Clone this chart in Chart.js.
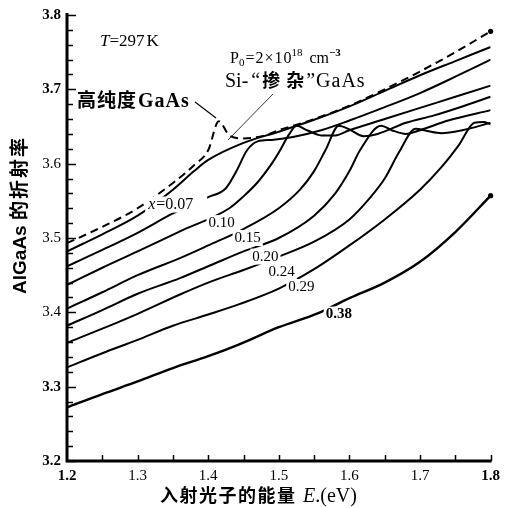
<!DOCTYPE html>
<html>
<head>
<meta charset="utf-8">
<script src="https://cdn.jsdelivr.net/npm/chart.js@4"></script>
<style>
  html, body { margin: 0; padding: 0; background: #fff; }
  #wrap { position: relative; width: 506px; height: 508px; }
</style>
</head>
<body>
<div id="wrap"><canvas id="c"></canvas></div>
<script>
// Refractive index of AlGaAs vs photon energy, T = 297 K
const xTicks = [1.2, 1.3, 1.4, 1.5, 1.6, 1.7, 1.8];
const yTicks = [3.2, 3.3, 3.4, 3.5, 3.6, 3.7, 3.8];

// high purity GaAs (dashed)
const ePure = [1.2, 1.25, 1.3, 1.35, 1.38, 1.40, 1.415, 1.43, 1.45, 1.48, 1.5, 1.55, 1.6, 1.65, 1.7, 1.75, 1.8];
const nPure = [3.493, 3.515, 3.54, 3.574, 3.598, 3.618, 3.657, 3.638, 3.634, 3.638, 3.645, 3.66, 3.678, 3.70, 3.724, 3.75, 3.778];
// Si-doped GaAs, P0 = 2e18
const eSi = [1.2, 1.25, 1.3, 1.35, 1.38, 1.4, 1.45, 1.5, 1.55, 1.6, 1.65, 1.7, 1.75, 1.8];
const nSi = [3.482, 3.505, 3.53, 3.565, 3.59, 3.605, 3.628, 3.643, 3.659, 3.677, 3.698, 3.719, 3.738, 3.757];
// AlxGa1-xAs
const e07 = [1.2, 1.25, 1.3, 1.35, 1.4, 1.425, 1.44, 1.455, 1.47, 1.49, 1.52, 1.56, 1.6, 1.65, 1.7, 1.75, 1.8];
const n07 = [3.462, 3.484, 3.507, 3.533, 3.555, 3.567, 3.59, 3.618, 3.63, 3.632, 3.636, 3.645, 3.658, 3.676, 3.695, 3.717, 3.74];
const e10 = [1.2, 1.25, 1.3, 1.36, 1.43, 1.45, 1.47, 1.49, 1.5, 1.515, 1.525, 1.54, 1.56, 1.58, 1.6, 1.65, 1.7, 1.75, 1.8];
const n10 = [3.437, 3.46, 3.482, 3.509, 3.54, 3.556, 3.575, 3.60, 3.615, 3.64, 3.651, 3.645, 3.638, 3.638, 3.645, 3.66, 3.675, 3.69, 3.705];
const e15 = [1.2, 1.25, 1.3, 1.36, 1.4, 1.45, 1.5, 1.53, 1.55, 1.566, 1.585, 1.6, 1.62, 1.64, 1.68, 1.72, 1.76, 1.8];
const n15 = [3.405, 3.427, 3.45, 3.473, 3.49, 3.512, 3.54, 3.565, 3.59, 3.618, 3.651, 3.646, 3.637, 3.64, 3.655, 3.665, 3.677, 3.69];
const e20 = [1.2, 1.25, 1.3, 1.36, 1.4, 1.45, 1.5, 1.55, 1.58, 1.6, 1.615, 1.645, 1.66, 1.68, 1.7, 1.74, 1.8];
const n20 = [3.382, 3.403, 3.425, 3.446, 3.462, 3.482, 3.50, 3.53, 3.56, 3.59, 3.618, 3.651, 3.645, 3.64, 3.645, 3.658, 3.672];
const e24 = [1.2, 1.25, 1.3, 1.36, 1.4, 1.45, 1.5, 1.55, 1.6, 1.63, 1.65, 1.67, 1.694, 1.71, 1.73, 1.76, 1.8];
const n24 = [3.359, 3.378, 3.398, 3.424, 3.44, 3.457, 3.475, 3.495, 3.525, 3.555, 3.58, 3.615, 3.647, 3.644, 3.641, 3.645, 3.655];
const e29 = [1.2, 1.25, 1.3, 1.35, 1.4, 1.444, 1.5, 1.55, 1.6, 1.65, 1.7, 1.73, 1.755, 1.777, 1.79, 1.8];
const n29 = [3.326, 3.345, 3.363, 3.382, 3.397, 3.411, 3.432, 3.458, 3.49, 3.525, 3.565, 3.595, 3.625, 3.655, 3.656, 3.653];
const e38 = [1.2, 1.25, 1.3, 1.35, 1.4, 1.444, 1.5, 1.556, 1.6, 1.65, 1.7, 1.75, 1.8];
const n38 = [3.272, 3.29, 3.307, 3.325, 3.341, 3.357, 3.38, 3.399, 3.419, 3.44, 3.468, 3.508, 3.557];

const pts = (es, ns) => es.map((e, i) => ({ x: e, y: ns[i] }));
const solid = (label, es, ns, w) => ({
  label, data: pts(es, ns), borderColor: '#000', borderWidth: w || 2,
  pointRadius: 0, fill: false, cubicInterpolationMode: 'monotone'
});

const SERIF = '"Liberation Serif", "DejaVu Serif", serif';
const CJK = '"Noto Sans CJK SC", sans-serif';
const SANS = '"Liberation Sans", Arial, sans-serif';

// draws text pieces one after the other: [text, font, dy, gapAfter, letterGap]
function runs(ctx, x, y, parts) {
  ctx.textAlign = 'left';
  for (const [txt, font, dy, gap, lg] of parts) {
    ctx.font = font;
    if (lg) {
      for (const ch of txt) {
        ctx.fillText(ch, x, y + (dy || 0));
        x += ctx.measureText(ch).width + lg;
      }
      x -= lg;
    } else {
      ctx.fillText(txt, x, y + (dy || 0));
      x += ctx.measureText(txt).width;
    }
    x += gap || 0;
  }
}

// inward ticks, axis titles and curve notes
const decor = {
  id: 'decor',
  afterDatasetsDraw(chart) {
    const { ctx, chartArea: a, scales: { x, y } } = chart;
    ctx.save();
    ctx.strokeStyle = '#000';
    ctx.lineWidth = 1.5;
    for (let v = 3.2; v <= 3.8001; v += 0.02) {
      const py = Math.round(y.getPixelForValue(v)) + 0.5;
      const major = Math.abs(v * 10 - Math.round(v * 10)) < 0.01;
      ctx.beginPath(); ctx.moveTo(a.left, py); ctx.lineTo(a.left + (major ? 9 : 6), py); ctx.stroke();
    }
    for (let v = 1.25; v <= 1.8001; v += 0.05) {
      const px = Math.round(x.getPixelForValue(v)) + 0.5;
      ctx.beginPath(); ctx.moveTo(px, a.bottom); ctx.lineTo(px, a.bottom - 6); ctx.stroke();
    }
    ctx.lineWidth = 3;
    ctx.beginPath();
    ctx.moveTo(a.left, a.top - 2); ctx.lineTo(a.left, a.bottom); ctx.lineTo(a.right + 1, a.bottom);
    ctx.stroke();
    // end blobs
    ctx.fillStyle = '#000';
    ctx.beginPath(); ctx.arc(x.getPixelForValue(1.8), y.getPixelForValue(3.557), 2.6, 0, Math.PI * 2); ctx.fill();
    ctx.beginPath(); ctx.arc(x.getPixelForValue(1.8), y.getPixelForValue(3.778), 2.6, 0, Math.PI * 2); ctx.fill();

    // curve labels with a white gap behind them
    ctx.textBaseline = 'middle';
    ctx.textAlign = 'center';
    const note = (txt, e, n, font) => {
      ctx.font = font || '15px ' + SERIF;
      const px = x.getPixelForValue(e), py = y.getPixelForValue(n);
      const w = ctx.measureText(txt).width;
      ctx.fillStyle = '#fff';
      ctx.fillRect(px - w / 2 - 2, py - 8, w + 4, 16);
      ctx.fillStyle = '#000';
      ctx.fillText(txt, px, py);
    };
    note('0.10', 1.419, 3.520);
    note('0.15', 1.456, 3.500);
    note('0.20', 1.481, 3.475);
    note('0.24', 1.504, 3.454);
    note('0.29', 1.532, 3.434);
    note('0.38', 1.585, 3.397, 'bold 15px ' + SERIF);
    // x = 0.07 with italic x
    {
      const px = x.getPixelForValue(1.315), py = y.getPixelForValue(3.545);
      ctx.fillStyle = '#fff';
      ctx.fillRect(px - 3, py - 8, 62, 16);
      ctx.fillStyle = '#000';
      runs(ctx, px, py, [['x', 'italic 16px ' + SERIF, 0, 1], ['=0.07', '16px ' + SERIF]]);
    }

    ctx.textBaseline = 'alphabetic';
    // T = 297 K
    runs(ctx, 100, 46, [['T', 'italic 17px ' + SERIF, 0, 0], ['=297', '17px ' + SERIF, 0, 2], ['K', '17px ' + SERIF]]);

    // P0 = 2x10^18 cm^-3
    runs(ctx, 230, 63, [
      ['P', '16px ' + SERIF], ['0', '11px ' + SERIF, 3, 1],
      ['=2×10', '16px ' + SERIF, 0, 0, 1], ['18', '11px ' + SERIF, -7, 7],
      ['cm', '16px ' + SERIF], ['−3', 'bold 11px ' + SERIF, -7]
    ]);
    // Si-"doped" GaAs
    runs(ctx, 225, 87, [
      ['Si-', '20px ' + SERIF, 0, 3], ['“', '20px ' + SERIF, 0, 2],
      ['掺杂', 'bold 18px ' + CJK, 0, 2, 6], ['”GaAs', '20px ' + SERIF, 0, 0, 1]
    ]);
    // high purity GaAs
    runs(ctx, 77, 107, [['高纯度', 'bold 19px ' + CJK, 0, 2, 1], ['GaAs', 'bold 20px ' + SERIF, 0, 0, 1]]);

    // leader lines
    ctx.lineWidth = 1.2;
    ctx.beginPath(); ctx.moveTo(195, 102); ctx.lineTo(216, 118); ctx.stroke();
    ctx.lineWidth = 0.8;
    ctx.beginPath(); ctx.moveTo(273, 94); ctx.lineTo(228, 140); ctx.stroke();

    // axis titles
    runs(ctx, 160, 502, [
      ['入射光子的能量', 'bold 18px ' + CJK, 0, 8, 1.5], ['E', 'italic 20px ' + SERIF, 0, 0],
      ['.', '20px ' + SERIF, 0, 0], ['(eV)', '20px ' + SERIF]
    ]);

    ctx.translate(26, 216);
    ctx.rotate(-Math.PI / 2);
    ctx.font = 'bold 19px ' + SANS;
    const w1 = ctx.measureText('AlGaAs ').width;
    ctx.font = 'bold 19px ' + CJK;
    const w2 = ctx.measureText('的折射率').width + 6;
    runs(ctx, -(w1 + w2) / 2, 0, [['AlGaAs ', 'bold 19px ' + SANS], ['的折射率', 'bold 19px ' + CJK, 0, 0, 2]]);
    ctx.restore();
  }
};

new Chart(document.getElementById('c'), {
  type: 'line',
  data: {
    datasets: [
      { label: '高纯度GaAs', data: pts(ePure, nPure), borderColor: '#000', borderWidth: 2,
        borderDash: [8, 5], pointRadius: 0, fill: false, cubicInterpolationMode: 'monotone' },
      solid('Si-掺杂GaAs', eSi, nSi),
      solid('x=0.07', e07, n07),
      solid('x=0.10', e10, n10),
      solid('x=0.15', e15, n15),
      solid('x=0.20', e20, n20),
      solid('x=0.24', e24, n24),
      solid('x=0.29', e29, n29),
      solid('x=0.38', e38, n38, 2.4)
    ]
  },
  options: {
    responsive: true,
    maintainAspectRatio: false,
    animation: false,
    layout: { padding: { left: 0, right: 13, top: 15, bottom: 0 } },
    plugins: { legend: { display: false }, tooltip: { enabled: false } },
    scales: {
      x: {
        type: 'linear', min: 1.2, max: 1.8,
        afterBuildTicks: (s) => { s.ticks = xTicks.map((v) => ({ value: v })); },
        afterFit: (s) => { s.height = 47; },
        grid: { display: false, drawTicks: false },
        border: { display: false },
        ticks: {
          padding: 6, color: '#000',
          font: (c) => ({ family: SERIF, size: 15, weight: (c.tick && (c.tick.value === 1.2 || c.tick.value === 1.8)) ? 'bold' : 'normal' }),
          callback: (v) => Number(v).toFixed(1)
        }
      },
      y: {
        type: 'linear', min: 3.2, max: 3.8,
        afterBuildTicks: (s) => { s.ticks = yTicks.map((v) => ({ value: v })); },
        afterFit: (s) => { s.width = 67; },
        grid: { display: false, drawTicks: false },
        border: { display: false },
        ticks: {
          padding: 6, color: '#000',
          font: (c) => ({ family: SERIF, size: 15, weight: (c.tick && (c.tick.value >= 3.7 || c.tick.value === 3.2 || c.tick.value === 3.3)) ? 'bold' : 'normal' }),
          callback: (v) => Number(v).toFixed(1)
        }
      }
    }
  },
  plugins: [decor]
});
</script>
</body>
</html>
